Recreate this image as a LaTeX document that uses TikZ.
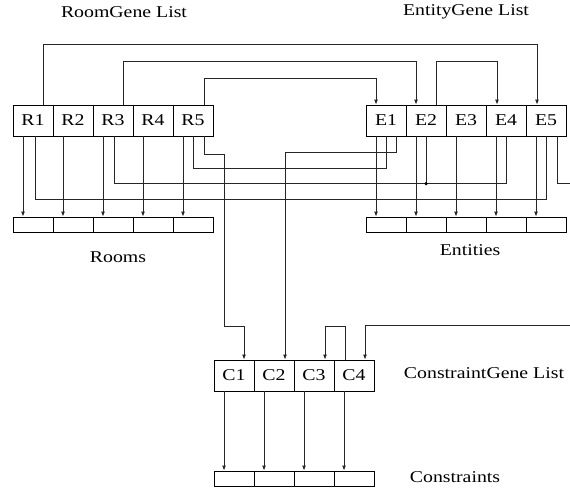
\documentclass[tikz,border=0pt]{standalone}
\usepackage{fontspec}
\setmainfont{Liberation Serif}[FakeStretch=1.2]
\usepackage{tikz}
\usetikzlibrary{arrows.meta}

\begin{document}
\begin{tikzpicture}[x=1pt,y=-1pt,
    every node/.style={font=\fontsize{16.5}{19}\selectfont},
    gene/.style={draw,line width=0.8pt,minimum width=40pt,minimum height=31pt,inner sep=0pt},
    cell/.style={draw,line width=0.8pt,minimum width=40pt,minimum height=15pt,inner sep=0pt},
    wire/.style={draw=black!85,line width=0.9pt},
    arr/.style={wire,-{Latex[length=5pt,width=4pt]}}]
  \useasboundingbox (0,0) rectangle (570,489);

  % titles
  \node (roomlist) at (124,12) {RoomGene List};
  \node (entlist) at (466,12) {EntityGene List};
  \node (rooms) at (118,257) {Rooms};
  \node (ents) at (470,250) {Entities};
  \node (conlist) at (484,373) {ConstraintGene List};
  \node (cons) at (455,477) {Constraints};

  % gene lists
  \node[gene] (R1) at (33,120.5) {R1};
  \node[gene] (R2) at (73,120.5) {R2};
  \node[gene] (R3) at (113,120.5) {R3};
  \node[gene] (R4) at (153,120.5) {R4};
  \node[gene] (R5) at (193,120.5) {R5};

  \node[gene] (E1) at (386,120.5) {E1};
  \node[gene] (E2) at (426,120.5) {E2};
  \node[gene] (E3) at (466,120.5) {E3};
  \node[gene] (E4) at (506,120.5) {E4};
  \node[gene] (E5) at (546,120.5) {E5};

  \node[gene] (C1) at (234,375.5) {C1};
  \node[gene] (C2) at (274,375.5) {C2};
  \node[gene] (C3) at (314,375.5) {C3};
  \node[gene] (C4) at (354,375.5) {C4};

  % decoded cells
  \node[cell] (rm1) at (33,224.5) {};
  \node[cell] (rm2) at (73,224.5) {};
  \node[cell] (rm3) at (113,224.5) {};
  \node[cell] (rm4) at (153,224.5) {};
  \node[cell] (rm5) at (193,224.5) {};

  \node[cell] (en1) at (386,224.5) {};
  \node[cell] (en2) at (426,224.5) {};
  \node[cell] (en3) at (466,224.5) {};
  \node[cell] (en4) at (506,224.5) {};
  \node[cell] (en5) at (546,224.5) {};

  \node[cell] (cn1) at (234,478.5) {};
  \node[cell] (cn2) at (274,478.5) {};
  \node[cell] (cn3) at (314,478.5) {};
  \node[cell] (cn4) at (354,478.5) {};

  \coordinate (eout) at (570,183.3);
  \coordinate (cin) at (570,325);

  % gene -> cell
  \draw[arr] ([xshift=-10pt]R1.south) -- ([xshift=-10pt]rm1.north);
  \draw[arr] ([xshift=-10pt]R2.south) -- ([xshift=-10pt]rm2.north);
  \draw[arr] ([xshift=-10pt]R3.south) -- ([xshift=-10pt]rm3.north);
  \draw[arr] ([xshift=-10pt]R4.south) -- ([xshift=-10pt]rm4.north);
  \draw[arr] ([xshift=-10pt]R5.south) -- ([xshift=-10pt]rm5.north);

  \draw[arr] ([xshift=-10pt]E1.south) -- ([xshift=-10pt]en1.north);
  \draw[arr] ([xshift=-10pt]E2.south) -- ([xshift=-10pt]en2.north);
  \draw[arr] ([xshift=-10pt]E3.south) -- ([xshift=-10pt]en3.north);
  \draw[arr] ([xshift=-10pt]E4.south) -- ([xshift=-10pt]en4.north);
  \draw[arr] ([xshift=-10pt]E5.south) -- ([xshift=-10pt]en5.north);

  \draw[arr] ([xshift=-10pt]C1.south) -- ([xshift=-10pt]cn1.north);
  \draw[arr] ([xshift=-10pt]C2.south) -- ([xshift=-10pt]cn2.north);
  \draw[arr] ([xshift=-10pt]C3.south) -- ([xshift=-10pt]cn3.north);
  \draw[arr] ([xshift=-10pt]C4.south) -- ([xshift=-10pt]cn4.north);

  % links above
  \draw[arr] ([xshift=10pt]R1.north) -- ++(0,-60.3) -| ([xshift=-9pt]E5.north);
  \draw[arr] ([xshift=10pt]R3.north) -- ++(0,-43) -| ([xshift=-10pt]E2.north);
  \draw[arr] ([xshift=11pt]R5.north) -- ++(0,-26) -| ([xshift=-10pt]E1.north);
  \draw[arr] ([xshift=10pt]E2.north) -- ++(0,-43) -| ([xshift=-9pt]E4.north);

  % links below
  \draw[wire] ([xshift=2pt]R1.south) -- ++(0,63.3) -| ([xshift=0.7pt]E5.south);
  \draw[wire] ([xshift=1pt]R3.south) -- ++(0,47.3) -| ([xshift=0.7pt]E4.south);
  \draw[wire] (E2.south) -- ++(0,47.3) coordinate (jn);
  \fill[black] (jn) circle (1.8);
  \draw[wire] (R5.south) -- ++(0,31.7) -| (E1.south);
  \draw[arr] ([xshift=11pt]R5.south) -- ++(0,18.3) -| ++(20,171.7) -| ([xshift=10pt]C1.north);
  \draw[arr] ([xshift=10pt]E1.south) -- ++(0,16) -| ([xshift=11pt]C2.north);
  \draw[wire] ([xshift=11pt]E5.south) |- (eout);
  \draw[arr] (cin) -| ([xshift=11pt]C4.north);
  \draw[arr] ([xshift=-9pt]C4.north) -- ++(0,-33.3) -| ([xshift=11pt]C3.north);
\end{tikzpicture}
\end{document}
